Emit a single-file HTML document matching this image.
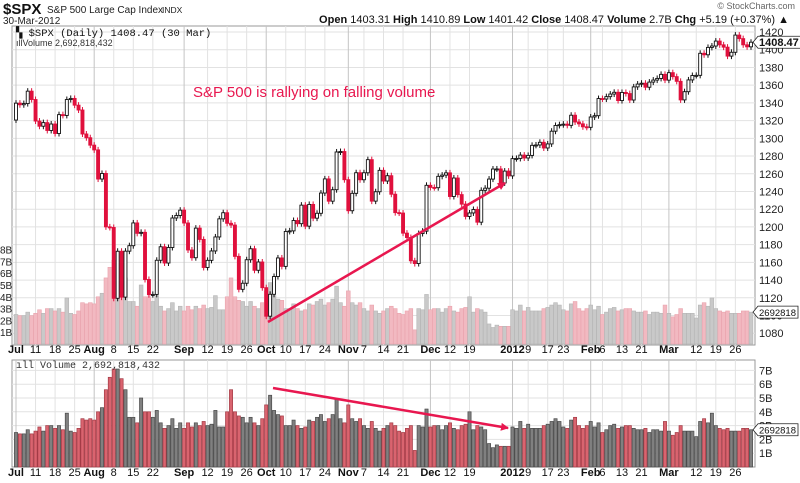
<!DOCTYPE html>
<html><head><meta charset="utf-8">
<style>
body{margin:0;background:#fff;width:800px;height:483px;overflow:hidden;font-family:"Liberation Sans",sans-serif;}
svg{display:block}
</style></head><body>
<svg id="c" width="800" height="483" xmlns="http://www.w3.org/2000/svg" font-family="Liberation Sans, sans-serif"></svg>
<script>
const closes=[1339.67,1337.88,1339.22,1353.22,1343.80,1319.49,1313.64,1317.72,1308.87,1316.14,1305.44,1326.73,1325.84,1343.80,1345.02,1337.43,1331.94,1304.89,1300.67,1292.28,
1286.94,1254.05,1260.34,1200.07,1199.38,1119.46,1172.53,1120.76,1172.64,1178.81,1204.49,1192.76,1193.89,1140.65,1123.53,1123.82,1162.35,1177.60,1159.27,1176.80,1210.08,1212.92,1218.89,
1204.42,1173.97,1165.24,1198.62,1185.90,1154.23,1162.27,1172.87,1188.68,1209.11,1216.01,1204.09,1202.09,1166.76,1129.56,1136.43,1162.95,1175.38,1151.06,1160.40,1131.42,
1099.23,1123.95,1144.03,1164.97,1155.46,1194.89,1195.54,1207.25,1203.66,1224.58,1200.86,1225.38,1209.88,1215.39,1238.25,1254.19,1229.05,1242.00,1284.59,1285.09,1253.30,
1218.28,1237.90,1261.15,1253.23,1261.12,1275.92,1229.10,1239.70,1263.85,1251.78,1257.81,1236.91,1216.13,1215.65,1192.98,1188.04,1161.79,1158.67,1192.55,1195.19,1246.96,
1244.58,1244.28,1257.08,1258.47,1261.01,1234.35,1255.19,1236.47,1225.73,1211.82,1215.75,1219.66,1205.35,1241.30,1243.72,1254.00,1265.33,1265.43,1249.64,1263.02,1257.60,
1277.06,1277.30,1281.06,1277.81,1280.70,1292.08,1292.48,1295.50,1289.09,1293.67,1308.04,1314.50,1315.38,1316.00,1314.65,1326.06,1318.43,1316.33,1313.01,1312.41,
1324.09,1325.54,1344.90,1344.33,1347.05,1349.96,1351.95,1342.64,1351.77,1350.50,1343.23,1358.04,1361.23,1362.21,1357.66,1363.46,1365.74,1367.59,1372.18,1365.68,
1374.09,1369.63,1364.33,1343.36,1352.63,1365.91,1370.87,1371.09,1395.95,1394.28,1402.60,1404.17,1409.75,1405.52,1402.89,1392.78,1397.11,1416.51,1412.52,1405.54,1403.28,1408.47];
const prevClose=1320.64;
const volumes=[2.5,2.4,2.4,2.7,2.4,2.6,2.9,2.6,3.0,3.0,2.8,3.0,2.7,3.9,2.6,2.5,2.8,3.5,3.4,3.5,
3.4,4.0,4.3,5.6,6.5,7.1,7.1,6.4,5.6,3.6,3.6,3.2,5.0,4.0,4.0,3.6,4.1,3.2,2.8,3.0,3.5,2.8,3.2,
2.8,3.2,2.9,3.2,3.0,3.3,3.0,3.1,4.1,2.9,2.9,4.0,5.6,4.0,3.7,3.6,3.2,3.6,3.2,3.0,3.5,
4.5,5.2,4.1,3.8,3.7,3.0,3.0,3.4,3.0,2.8,2.9,3.4,3.3,3.6,3.8,3.3,3.5,3.8,4.9,3.5,3.2,
4.5,3.5,3.3,3.5,3.0,2.8,3.3,2.8,2.6,2.8,3.0,3.2,3.0,2.6,2.5,2.8,3.0,1.2,3.0,2.9,4.2,
2.9,3.0,3.0,2.7,3.0,3.2,2.8,2.7,3.0,3.1,4.0,2.7,3.0,2.9,2.7,1.7,1.4,1.6,1.5,1.5,1.5,
2.9,2.8,3.3,2.8,3.1,2.8,2.8,2.8,3.0,3.1,3.3,3.5,3.3,2.9,2.8,3.4,3.6,3.0,2.8,3.0,
3.3,2.9,3.2,2.5,2.7,3.0,3.1,2.8,2.9,3.0,3.0,2.8,2.7,2.7,2.8,2.5,2.7,2.7,2.6,3.3,
2.6,2.3,2.5,3.0,2.6,2.6,2.6,2.2,3.3,3.5,3.2,3.9,3.0,2.8,2.7,2.8,2.6,2.6,2.6,2.8,2.8,2.7];
const priceTicks=[1080,1100,1120,1140,1160,1180,1200,1220,1240,1260,1280,1300,1320,1340,1360,1380,1400,1420];
const volTicks=[1,2,3,4,5,6,7];
const ovTicks=[1,2,3,4,5,6,7,8];
const dateIdx=[0,5,10,15,20,25,30,35,43,49,54,59,64,69,74,79,85,89,94,99,106,111,116,127,131,136,140,147,150,155,160,167,174,179,184];
const dateLbl=["Jul","11","18","25","Aug","8","15","22","Sep","12","19","26","Oct","10","17","24","Nov","7","14","21","Dec","12","19","2012","9","17","23","Feb","6","13","21","Mar","12","19","26"];
const monthIdx=[0,20,43,64,85,106,127,147,167];

const svg=document.getElementById('c');
const NS='http://www.w3.org/2000/svg';
function mk(t,a,txt){const e=document.createElementNS(NS,t);for(const k in a)e.setAttribute(k,a[k]);if(txt!==undefined)e.textContent=txt;svg.appendChild(e);return e;}
const L=12,R=755,T1=26,B1=345,T2=360,B2=467;
const xs=i=>16+i*(751-16)/188;
const yp=p=>32+(1420-p)*0.886;
const yov=v=>344-v*11.8;
const yv=v=>467-v*13.8;

let e;
e=mk('rect',{x:L,y:T1,width:R-L,height:B1-T1,fill:'#fff',stroke:'#999'});


e=mk('rect',{x:L,y:T2,width:R-L,height:B2-T2,fill:'#fff',stroke:'#999'});



priceTicks.forEach(p=>{const y=yp(p);
 e=mk('line',{x1:L,x2:R,y1:y,y2:y,stroke:'#e2e2e2'});
 
 
 e=mk('text',{x:R+4,y:y+4,'font-size':11,fill:'#222'},String(p));
 
 
});
volTicks.forEach(v=>{const y=yv(v);
 e=mk('line',{x1:L,x2:R,y1:y,y2:y,stroke:'#e2e2e2'});
 
 
 e=mk('text',{x:R+4,y:y+4,'font-size':11,fill:'#222'},v+'B');
 
 
});
dateIdx.forEach((d,k)=>{const x=xs(d);const m=monthIdx.includes(d);
 [[T1,B1],[T2,B2]].forEach(r=>{
  e=mk('line',{x1:x,x2:x,y1:r[0],y2:r[1],stroke:m?'#c4c4c4':'#e2e2e2'});
  
  
 });
 [353,476].forEach(y=>{
  e=mk('text',{x:d===0?8:x,y:y,'font-size':11,'text-anchor':d===0?'start':'middle','font-weight':m?'bold':'normal',fill:'#111'},dateLbl[k]);
  
  
 });
});
ovTicks.forEach(v=>{
 e=mk('text',{x:0,y:yov(v)+4,'font-size':10,fill:'#222'},v+'B');
 
 
});

volumes.forEach((v,i)=>{const x=xs(i);const pc=i?closes[i-1]:prevClose;const dn=closes[i]<pc;
 e=mk('rect',{x:x-1.9,y:yov(v),width:3.8,height:344-yov(v),fill:dn?'#f2b9c1':'#c9c9c9',stroke:dn?'#e9a3ad':'#b5b5b5','stroke-width':0.6});
 
 
 e=mk('rect',{x:x-1.6,y:yv(v),width:3.2,height:467-yv(v),fill:dn?'#d9646f':'#808080',stroke:dn?'#a33a45':'#4a4a4a','stroke-width':0.7});
 
 
});

closes.forEach((c,i)=>{const o=i?closes[i-1]:prevClose;const x=xs(i);const dn=c<o;
 const y1=yp(Math.max(o,c)),y2=yp(Math.min(o,c));
 e=mk('line',{x1:x,x2:x,y1:y1-3,y2:y2+3,stroke:dn?'#e0103d':'#111','stroke-width':1});
 
 
 e=mk('rect',{x:x-1.5,y:y1,width:3,height:Math.max(1,y2-y1),fill:dn?'#e0103d':'#fff',stroke:dn?'#e0103d':'#111','stroke-width':0.9});
 
 
});

e=mk('defs',{});
e.innerHTML='<marker id="ah" markerWidth="8" markerHeight="8" refX="7" refY="4" orient="auto" markerUnits="userSpaceOnUse" viewBox="0 0 8 8"><path d="M0,0 L8,4 L0,8 z" fill="#e8174f"/></marker>';
e=mk('line',{x1:268,y1:322,x2:505,y2:183,stroke:'#e8174f','stroke-width':2.5,'marker-end':'url(#ah)'});


e=mk('line',{x1:273,y1:388,x2:508,y2:428,stroke:'#e8174f','stroke-width':2.5,'marker-end':'url(#ah)'});


e=mk('text',{x:193,y:97,'font-size':15,fill:'#e8174f'},'S&P 500 is rallying on falling volume');



e=mk('text',{x:3,y:14,'font-size':15,'font-weight':'bold',fill:'#111'},'$SPX');


e=mk('text',{x:47,y:13,'font-size':10,fill:'#222'},'S&P 500 Large Cap Index');


e=mk('text',{x:162,y:13,'font-size':8.5,fill:'#222'},'INDX');


e=mk('text',{x:3,y:24,'font-size':10,fill:'#222'},'30-Mar-2012');


e=mk('text',{x:795,y:9,'font-size':9,fill:'#666','text-anchor':'end'},'© StockCharts.com');


e=mk('text',{x:789,y:23,'font-size':11,fill:'#111','text-anchor':'end'});
e.innerHTML='<tspan font-weight="bold">Open</tspan> 1403.31 <tspan font-weight="bold">High</tspan> 1410.89 <tspan font-weight="bold">Low</tspan> 1401.42 <tspan font-weight="bold">Close</tspan> 1408.47 <tspan font-weight="bold">Volume</tspan> 2.7B <tspan font-weight="bold">Chg</tspan> +5.19 (+0.37%) ▲';


e=mk('text',{x:16,y:36,'font-size':10.5,'font-family':'Liberation Mono, monospace',fill:'#111'},'▚ $SPX (Daily) 1408.47 (30 Mar)');


e=mk('text',{x:16,y:46,'font-size':9,fill:'#333'},'ıllVolume 2,692,818,432');


e=mk('text',{x:16,y:368,'font-size':10,'font-family':'Liberation Mono, monospace',fill:'#333'},'ıll Volume 2,692,818,432');



function tag(y,txt,name,bold){
 const g=mk('g',{});
 
 
 const w=bold?43:40;
 g.innerHTML='<path d="M753,'+y+' l5,-6 h'+w+' v12 h-'+w+' z" fill="#fff" stroke="#222" stroke-width="0.8"/><text x="759" y="'+(y+4)+'" font-size="'+(bold?11:9.5)+'" font-weight="'+(bold?'bold':'normal')+'" fill="#111">'+txt+'</text>';
}
tag(yp(closes[closes.length-1]),'1408.47','last-price-tag',true);
tag(yov(volumes[volumes.length-1]),'2692818','overlay-volume-tag',false);
tag(yv(volumes[volumes.length-1]),'2692818','volume-tag',false);
</script>
</body></html>
